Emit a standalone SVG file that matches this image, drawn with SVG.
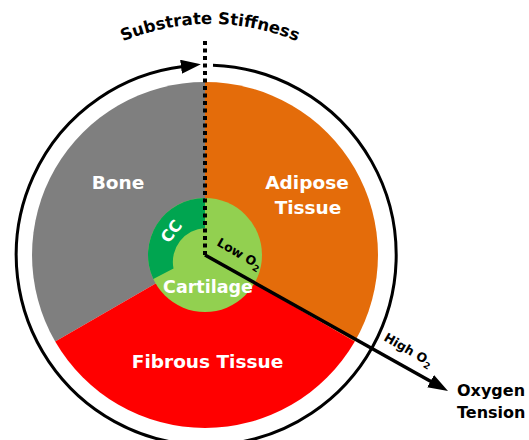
<svg xmlns="http://www.w3.org/2000/svg" width="529" height="440" viewBox="0 0 529 440">
  <style>
    .lbl { font-family: "DejaVu Sans", Verdana, sans-serif; font-weight: bold; fill: #ffffff; text-anchor: middle; }
    .blk { font-family: "DejaVu Sans", Verdana, sans-serif; font-weight: bold; fill: #000000; }
    .line { fill: none; stroke: #000000; }
  </style>
  <defs>
    <marker id="ah" markerUnits="userSpaceOnUse" markerWidth="20" markerHeight="14" refX="2" refY="7" orient="auto">
      <path d="M0,0 L20,7 L0,14 Z" fill="#000000"/>
    </marker>
    <path id="arcText" d="M -16 250 A 226 226 0 0 1 436 250"/>
  </defs>
  <rect width="529" height="440" fill="#ffffff"/>

  <g id="bone">
    <path d="M205,255 L55.2,341.5 A173,173 0 0 1 205,82 Z" fill="#7F7F7F"/>
    <text class="lbl" x="118" y="189" font-size="18.5">Bone</text>
  </g>
  <g id="adipose">
    <path d="M205,255 L205,82 A173,173 0 0 1 354.8,341.5 Z" fill="#E46C0A"/>
    <text class="lbl" x="307" y="189" font-size="18.5">Adipose</text>
    <text class="lbl" x="308" y="214" font-size="18.5">Tissue</text>
  </g>
  <g id="fibrous">
    <path d="M205,255 L354.8,341.5 A173,173 0 0 1 55.2,341.5 Z" fill="#FF0000"/>
    <text class="lbl" x="207.5" y="367.5" font-size="18.5">Fibrous Tissue</text>
  </g>
  <g id="cartilage">
    <circle cx="205" cy="255" r="57" fill="#92D050"/>
    <text class="lbl" x="208" y="292.5" font-size="17.5">Cartilage</text>
  </g>
  <g id="cc">
    <path d="M205,198 A57,57 0 0 0 153.3,279 L173.5,268.5 A34,34 0 0 1 205,228 Z" fill="#00A550"/>
    <text class="lbl" transform="translate(171,231) rotate(-52)" x="0" y="6" font-size="16">CC</text>
  </g>

  <g id="connectors">
    <path class="line" stroke-width="3" d="M213,65.2 A190,190 0 1 1 183,66.5" marker-end="url(#ah)"/>
    <line class="line" x1="205" y1="41" x2="205" y2="255" stroke-width="4" stroke-dasharray="4 3.5"/>
    <line class="line" x1="205" y1="255" x2="432.3" y2="382.2" stroke-width="3.5" marker-end="url(#ah)"/>
  </g>

  <g id="labels">
    <text class="blk" font-size="16.5"><textPath href="#arcText" startOffset="50%" text-anchor="middle">Substrate Stiffness</textPath></text>
    <text class="blk" font-size="12.5" transform="translate(216,245) rotate(30)">Low O<tspan font-size="9" dy="3.5">2</tspan></text>
    <text class="blk" font-size="12.5" transform="translate(383,340) rotate(30)">High O<tspan font-size="9" dy="3.5">2</tspan></text>
    <text class="blk" x="457" y="396" font-size="16">Oxygen</text>
    <text class="blk" x="457" y="418" font-size="16">Tension</text>
  </g>
</svg>
